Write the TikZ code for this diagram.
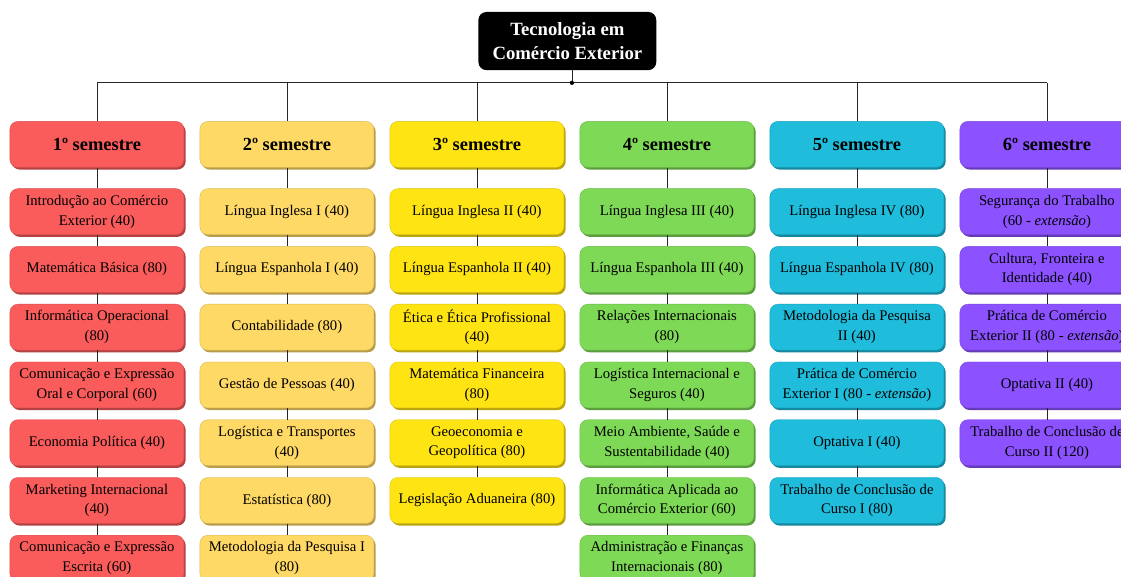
\documentclass[tikz,border=0pt]{standalone}
\usepackage{fontspec}
\setmainfont{Liberation Serif}
\usetikzlibrary{shadows}

\definecolor{semA}{HTML}{FA5C5C}
\definecolor{semB}{HTML}{FFD966}
\definecolor{semC}{HTML}{FFE414}
\definecolor{semD}{HTML}{7ED957}
\definecolor{semE}{HTML}{1FBCDB}
\definecolor{semF}{HTML}{8C52FF}

\tikzset{
  subj/.style={rounded corners=6pt, minimum width=4.58cm, minimum height=1.21cm,
    inner sep=2pt, align=center, fill=#1, draw=#1!85!black, line width=0.3pt,
    font=\fontsize{11}{14.8}\selectfont,
    general shadow={fill=#1!72!black, shadow xshift=1.3pt, shadow yshift=-1.6pt}},
  semhead/.style={subj=#1, font=\fontsize{13.8}{16}\selectfont\bfseries},
  link/.style={line width=0.6pt, black!85}
}

\begin{document}
\begin{tikzpicture}
\useasboundingbox (0,0) rectangle (29.5,-15.18);
\clip (0,0) rectangle (29.5,-15.18);

\node[rounded corners=6pt, fill=black, minimum width=4.68cm, minimum height=1.53cm, align=center,
  text=white, font=\fontsize{14}{18}\selectfont\bfseries] (curso) at (14.93,-1.08) {Tecnologia em\\Comércio Exterior};

% tronco
\coordinate (top) at (15.05,-2.18);
\coordinate (j1) at (2.55,-2.18);
\coordinate (j2) at (7.55,-2.18);
\coordinate (j3) at (12.55,-2.18);
\coordinate (j4) at (17.55,-2.18);
\coordinate (j5) at (22.55,-2.18);
\coordinate (j6) at (27.55,-2.18);
\draw[link] (curso.south -| top) -- (top);
\draw[link] (j1) -- (j6);
\fill (top) circle (1.6pt);

% 1o semestre
\node[semhead=semA] (h1) at (2.55,-3.80) {1º semestre};
\node[subj=semA] (a1) at (2.55,-5.57) {Introdução ao Comércio\\Exterior (40)};
\node[subj=semA] (a2) at (2.55,-7.09) {Matemática Básica (80)};
\node[subj=semA] (a3) at (2.55,-8.61) {Informática Operacional\\(80)};
\node[subj=semA] (a4) at (2.55,-10.13) {Comunicação e Expressão\\Oral e Corporal (60)};
\node[subj=semA] (a5) at (2.55,-11.65) {Economia Política (40)};
\node[subj=semA] (a6) at (2.55,-13.17) {Marketing Internacional\\(40)};
\node[subj=semA] (a7) at (2.55,-14.69) {Comunicação e Expressão\\Escrita (60)};
\draw[link] (j1) -- (h1) -- (a1) -- (a2) -- (a3) -- (a4) -- (a5) -- (a6) -- (a7);

% 2o semestre
\node[semhead=semB] (h2) at (7.55,-3.80) {2º semestre};
\node[subj=semB] (b1) at (7.55,-5.57) {Língua Inglesa I (40)};
\node[subj=semB] (b2) at (7.55,-7.09) {Língua Espanhola I (40)};
\node[subj=semB] (b3) at (7.55,-8.61) {Contabilidade (80)};
\node[subj=semB] (b4) at (7.55,-10.13) {Gestão de Pessoas (40)};
\node[subj=semB] (b5) at (7.55,-11.65) {Logística e Transportes\\(40)};
\node[subj=semB] (b6) at (7.55,-13.17) {Estatística (80)};
\node[subj=semB] (b7) at (7.55,-14.69) {Metodologia da Pesquisa I\\(80)};
\draw[link] (j2) -- (h2) -- (b1) -- (b2) -- (b3) -- (b4) -- (b5) -- (b6) -- (b7);

% 3o semestre
\node[semhead=semC] (h3) at (12.55,-3.80) {3º semestre};
\node[subj=semC] (c1) at (12.55,-5.57) {Língua Inglesa II (40)};
\node[subj=semC] (c2) at (12.55,-7.09) {Língua Espanhola II (40)};
\node[subj=semC] (c3) at (12.55,-8.61) {Ética e Ética Profissional\\(40)};
\node[subj=semC] (c4) at (12.55,-10.13) {Matemática Financeira\\(80)};
\node[subj=semC] (c5) at (12.55,-11.65) {Geoeconomia e\\Geopolítica (80)};
\node[subj=semC] (c6) at (12.55,-13.17) {Legislação Aduaneira (80)};
\draw[link] (j3) -- (h3) -- (c1) -- (c2) -- (c3) -- (c4) -- (c5) -- (c6);

% 4o semestre
\node[semhead=semD] (h4) at (17.55,-3.80) {4º semestre};
\node[subj=semD] (d1) at (17.55,-5.57) {Língua Inglesa III (40)};
\node[subj=semD] (d2) at (17.55,-7.09) {Língua Espanhola III (40)};
\node[subj=semD] (d3) at (17.55,-8.61) {Relações Internacionais\\(80)};
\node[subj=semD] (d4) at (17.55,-10.13) {Logística Internacional e\\Seguros (40)};
\node[subj=semD] (d5) at (17.55,-11.65) {Meio Ambiente, Saúde e\\Sustentabilidade (40)};
\node[subj=semD] (d6) at (17.55,-13.17) {Informática Aplicada ao\\Comércio Exterior (60)};
\node[subj=semD] (d7) at (17.55,-14.69) {Administração e Finanças\\Internacionais (80)};
\draw[link] (j4) -- (h4) -- (d1) -- (d2) -- (d3) -- (d4) -- (d5) -- (d6) -- (d7);

% 5o semestre
\node[semhead=semE] (h5) at (22.55,-3.80) {5º semestre};
\node[subj=semE] (e1) at (22.55,-5.57) {Língua Inglesa IV (80)};
\node[subj=semE] (e2) at (22.55,-7.09) {Língua Espanhola IV (80)};
\node[subj=semE] (e3) at (22.55,-8.61) {Metodologia da Pesquisa\\II (40)};
\node[subj=semE] (e4) at (22.55,-10.13) {Prática de Comércio\\Exterior I (80 - \textit{extensão})};
\node[subj=semE] (e5) at (22.55,-11.65) {Optativa I (40)};
\node[subj=semE] (e6) at (22.55,-13.17) {Trabalho de Conclusão de\\Curso I (80)};
\draw[link] (j5) -- (h5) -- (e1) -- (e2) -- (e3) -- (e4) -- (e5) -- (e6);

% 6o semestre
\node[semhead=semF] (h6) at (27.55,-3.80) {6º semestre};
\node[subj=semF] (f1) at (27.55,-5.57) {Segurança do Trabalho\\(60 - \textit{extensão})};
\node[subj=semF] (f2) at (27.55,-7.09) {Cultura, Fronteira e\\Identidade (40)};
\node[subj=semF] (f3) at (27.55,-8.61) {Prática de Comércio\\Exterior II (80 - \textit{extensão})};
\node[subj=semF] (f4) at (27.55,-10.13) {Optativa II (40)};
\node[subj=semF] (f5) at (27.55,-11.65) {Trabalho de Conclusão de\\Curso II (120)};
\draw[link] (j6) -- (h6) -- (f1) -- (f2) -- (f3) -- (f4) -- (f5);
\end{tikzpicture}
\end{document}
